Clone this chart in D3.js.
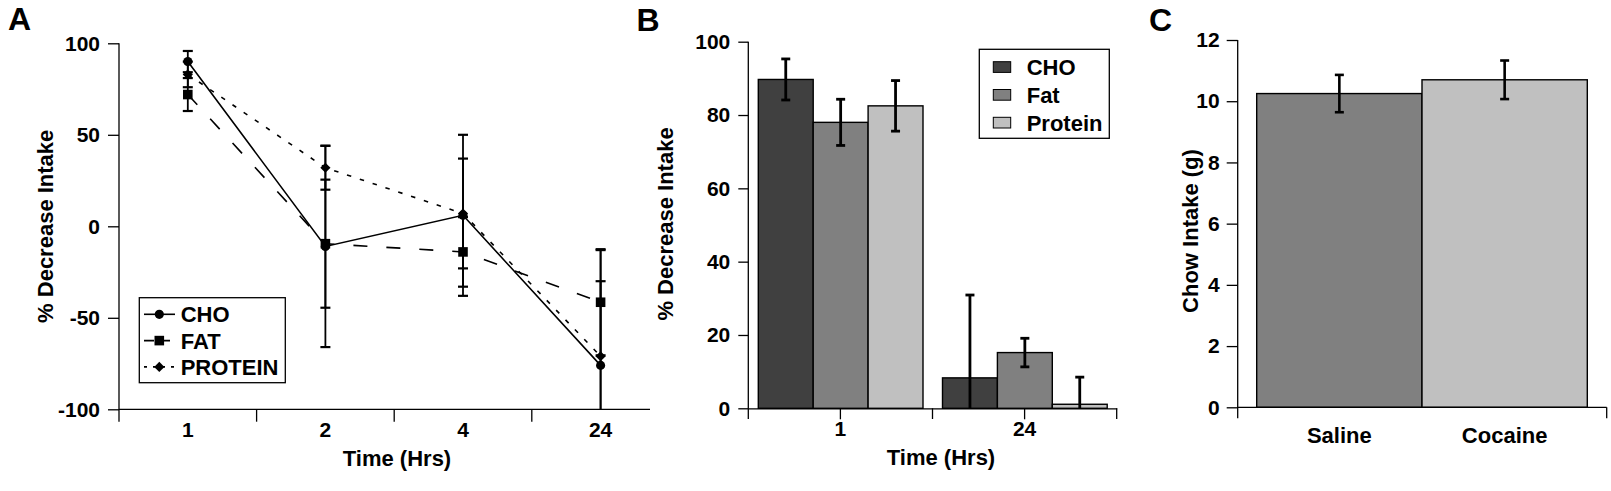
<!DOCTYPE html>
<html>
<head>
<meta charset="utf-8">
<script src="https://cdn.jsdelivr.net/npm/d3@7"></script>
<style>
body { margin: 0; background: #fff; }
svg text { font-family: "Liberation Sans", Arial, sans-serif; font-weight: bold; fill: #000; }
</style>
</head>
<body>
<script>
// ---- panel A : % decrease over time (line) ----
const timesA = ["1", "2", "4", "24"];
const seriesA = ["CHO", "FAT", "PROTEIN"];
const choA = [90, -11, 6, -76];
const choErrA = [5.8, 55, 44, 63];
const fatA = [72, -9.5, -14, -41.5];
const fatErrA = [9, 35, 19, 29];
const protA = [83, 32, 7, -71];
const protErrA = [7, 12, 30, 41];
const yTicksA = [-100, -50, 0, 50, 100];

// ---- panel B : % decrease, 1 h vs 24 h (bars) ----
const timesB = ["1", "24"];
const seriesB = ["CHO", "Fat", "Protein"];
const choB = [89.7, 8.3];
const choErrB = [5.6, 22.6];
const fatB = [78, 15.2];
const fatErrB = [6.3, 3.9];
const protB = [82.5, 1.1];
const protErrB = [6.9, 7.4];
const yTicksB = [0, 20, 40, 60, 80, 100];

// ---- panel C : chow intake ----
const groupsC = ["Saline", "Cocaine"];
const chowC = [10.25, 10.7];
const chowErrC = [0.61, 0.63];
const yTicksC = [0, 2, 4, 6, 8, 10, 12];

const W = 1611, H = 491;

// plain hyphen for negatives, like the original figure
const fmt = d => String(d);

const svg = d3.select("body").append("svg")
	.attr("width", W)
	.attr("height", H);

const styleAxis = (g, size) => {
	g.selectAll("path, line").attr("stroke", "#000").attr("stroke-width", 1.3);
	g.selectAll("text").style("font-size", size + "px");
}

// error bar with caps; caps are left off where the bar runs past the axis
const errorBar = (g, x, v, e, y, capW, lw, capLw) => {
	let [lo, hi] = y.domain();
	let top = Math.min(v + e, hi), bot = Math.max(v - e, lo);
	g.append("line")
		.attr("x1", x).attr("x2", x)
		.attr("y1", y(top)).attr("y2", y(bot))
		.attr("stroke", "#000").attr("stroke-width", lw);
	if (v + e <= hi) {
		g.append("line").attr("x1", x - capW).attr("x2", x + capW)
			.attr("y1", y(top)).attr("y2", y(top))
			.attr("stroke", "#000").attr("stroke-width", capLw || lw);
	}
	if (v - e >= lo) {
		g.append("line").attr("x1", x - capW).attr("x2", x + capW)
			.attr("y1", y(bot)).attr("y2", y(bot))
			.attr("stroke", "#000").attr("stroke-width", capLw || lw);
	}
}

const panelLetter = (txt, x, y) => {
	svg.append("text").attr("x", x).attr("y", y)
		.style("font-size", "32px").text(txt);
}

/* ================= Panel A ================= */
const drawA = () => {
	const g = svg.append("g").classed("panel-a", true);
	const y = d3.scaleLinear().domain([-100, 100]).range([409.3, 43.3]);
	const x = d3.scaleBand().domain(timesA).range([119, 669.4]);
	const cx = d => x(d) + x.bandwidth() / 2;

	// y axis
	const ya = g.append("g").attr("transform", "translate(119,0)")
		.call(d3.axisLeft(y).tickValues(yTicksA).tickFormat(fmt).tickSize(11).tickPadding(8).tickSizeOuter(0));
	ya.select(".domain").remove();
	g.append("line").attr("x1", 119).attr("x2", 119)
		.attr("y1", y(100)).attr("y2", 421.7);
	styleAxis(ya, 21);

	// x axis
	const xa = g.append("g").attr("transform", "translate(0," + y(-100) + ")")
		.call(d3.axisBottom(x).tickSize(0).tickPadding(13));
	xa.select(".domain").remove();
	styleAxis(xa, 21);
	g.append("line").attr("x1", 119).attr("x2", 650)
		.attr("y1", y(-100)).attr("y2", y(-100));
	d3.range(1, timesA.length).forEach(i => {
		let bx = x.range()[0] + i * x.step();
		g.append("line").attr("x1", bx).attr("x2", bx)
			.attr("y1", y(-100)).attr("y2", 421.7);
	});
	g.selectAll(":scope > line").attr("stroke", "#000").attr("stroke-width", 1.3);

	g.append("text").attr("x", 397).attr("y", 466)
		.attr("text-anchor", "middle").style("font-size", "22px").text("Time (Hrs)");
	g.append("text").attr("transform", "translate(53," + y(0) + ")rotate(-90)")
		.attr("text-anchor", "middle").style("font-size", "22px").text("% Decrease Intake");

	const series = [
		{ name: "CHO", vals: choA, errs: choErrA, dash: null, legDash: null, sym: d3.symbolCircle, size: 66, rot: 0 },
		{ name: "FAT", vals: fatA, errs: fatErrA, dash: "14,19", legDash: "10,6", sym: d3.symbolSquare, size: 92, rot: 0 },
		{ name: "PROTEIN", vals: protA, errs: protErrA, dash: "4.5,9", legDash: "3,6", sym: d3.symbolSquare, size: 52, rot: 45 }
	];

	const eb = g.append("g").classed("errorbars", true);
	series.forEach(s => {
		s.vals.forEach((v, i) => errorBar(eb, cx(timesA[i]), v, s.errs[i], y, 5, 1.8, 2.2));
	});

	const line = d3.line().x((d, i) => cx(timesA[i])).y(d => y(d));
	series.forEach(s => {
		g.append("path").datum(s.vals)
			.attr("d", line)
			.attr("fill", "none").attr("stroke", "#000").attr("stroke-width", 1.6)
			.attr("stroke-dasharray", s.dash);
		g.selectAll(null).data(s.vals).enter().append("path")
			.attr("d", d3.symbol().type(s.sym).size(s.size))
			.attr("transform", (d, i) => "translate(" + cx(timesA[i]) + "," + y(d) + ")rotate(" + s.rot + ")")
			.attr("fill", "#000");
	});

	// legend
	const lg = g.append("g").classed("legend", true);
	lg.append("rect").attr("x", 139.3).attr("y", 297.7).attr("width", 146).attr("height", 85)
		.attr("fill", "#fff").attr("stroke", "#000").attr("stroke-width", 1.3);
	series.forEach((s, i) => {
		let ly = 314.3 + i * 26.3;
		lg.append("line").attr("x1", 144).attr("x2", 175).attr("y1", ly).attr("y2", ly)
			.attr("stroke", "#000").attr("stroke-width", 1.6)
			.attr("stroke-dasharray", s.legDash);
		lg.append("path").attr("d", d3.symbol().type(s.sym).size(s.size))
			.attr("transform", "translate(159.3," + ly + ")rotate(" + s.rot + ")")
			.attr("fill", "#000");
		lg.append("text").attr("x", 180.7).attr("y", ly).attr("dy", "0.36em")
			.style("font-size", "22px").text(seriesA[i]);
	});
}

/* ================= Panel B ================= */
const drawB = () => {
	const g = svg.append("g").classed("panel-b", true);
	const colors = ["#404040", "#808080", "#c0c0c0"];
	const y = d3.scaleLinear().domain([0, 100]).range([408.3, 41.7]);
	const x0 = d3.scaleBand().domain(timesB).range([748.3, 1116.7]);
	const x1 = d3.scaleBand().domain(seriesB).range([10, x0.bandwidth() - 9.5]);

	const ya = g.append("g").attr("transform", "translate(748.3,0)")
		.call(d3.axisLeft(y).tickValues(yTicksB).tickFormat(fmt).tickSize(10).tickPadding(8).tickSizeOuter(0));
	ya.select(".domain").remove();
	styleAxis(ya, 21);

	const xa = g.append("g").attr("transform", "translate(0," + y(0) + ")")
		.call(d3.axisBottom(x0).tickSize(11).tickPadding(2).tickSizeOuter(0));
	styleAxis(xa, 21);
	g.append("line").attr("x1", 748.3).attr("x2", 748.3).attr("y1", y(100)).attr("y2", 419);
	d3.range(1, timesB.length + 1).forEach(i => {
		let bx = x0.range()[0] + i * x0.step();
		g.append("line").attr("x1", bx).attr("x2", bx).attr("y1", y(0)).attr("y2", 419);
	});
	g.selectAll(":scope > line").attr("stroke", "#000").attr("stroke-width", 1.3);

	const vals = [choB, fatB, protB], errs = [choErrB, fatErrB, protErrB];
	const bars = g.append("g").classed("bars", true);
	const eb = g.append("g").classed("errorbars", true);
	timesB.forEach((t, ti) => {
		seriesB.forEach((s, si) => {
			let v = vals[si][ti];
			let bx = x0(t) + x1(s);
			bars.append("rect")
				.attr("x", bx).attr("y", y(v))
				.attr("width", x1.bandwidth()).attr("height", y(0) - y(v))
				.attr("fill", colors[si]).attr("stroke", "#000").attr("stroke-width", 1.4);
			errorBar(eb, bx + x1.bandwidth() / 2, v, errs[si][ti], y, 4.5, 2.8);
		});
	});

	g.append("text").attr("x", 941).attr("y", 465)
		.attr("text-anchor", "middle").style("font-size", "22px").text("Time (Hrs)");
	g.append("text").attr("transform", "translate(673.3," + 224 + ")rotate(-90)")
		.attr("text-anchor", "middle").style("font-size", "22px").text("% Decrease Intake");

	const lg = g.append("g").classed("legend", true);
	lg.append("rect").attr("x", 979.3).attr("y", 49.3).attr("width", 130).attr("height", 89)
		.attr("fill", "#fff").attr("stroke", "#000").attr("stroke-width", 1.3);
	seriesB.forEach((s, i) => {
		let ly = 67 + i * 27.8;
		lg.append("rect").attr("x", 993.3).attr("y", ly - 5.3).attr("width", 17.4).attr("height", 10.7)
			.attr("fill", colors[i]).attr("stroke", "#000").attr("stroke-width", 1);
		lg.append("text").attr("x", 1026.7).attr("y", ly).attr("dy", "0.36em")
			.style("font-size", "22px").text(s);
	});
}

/* ================= Panel C ================= */
const drawC = () => {
	const g = svg.append("g").classed("panel-c", true);
	const colors = ["#808080", "#c0c0c0"];
	const y = d3.scaleLinear().domain([0, 12]).range([407.3, 40]);
	const x = d3.scaleBand().domain(groupsC).range([1256.7, 1587.3]);

	const ya = g.append("g").attr("transform", "translate(1237.7,0)")
		.call(d3.axisLeft(y).tickValues(yTicksC).tickFormat(fmt).tickSize(11).tickPadding(7).tickSizeOuter(0));
	ya.select(".domain").remove();
	styleAxis(ya, 21);

	const bars = g.append("g").classed("bars", true);
	const eb = g.append("g").classed("errorbars", true);
	groupsC.forEach((grp, i) => {
		let v = chowC[i];
		bars.append("rect")
			.attr("x", x(grp)).attr("y", y(v))
			.attr("width", x.bandwidth()).attr("height", y(0) - y(v))
			.attr("fill", colors[i]).attr("stroke", "#000").attr("stroke-width", 1.4);
		errorBar(eb, x(grp) + x.bandwidth() / 2, v, chowErrC[i], y, 4.5, 2.6);
	});

	const xa = g.append("g").attr("transform", "translate(0," + y(0) + ")")
		.call(d3.axisBottom(x).tickSize(0).tickPadding(20));
	xa.select(".domain").remove();
	styleAxis(xa, 22);
	g.append("line").attr("x1", 1237.7).attr("x2", 1606.7).attr("y1", y(0)).attr("y2", y(0));
	g.append("line").attr("x1", 1237.7).attr("x2", 1237.7).attr("y1", y(12)).attr("y2", 418.3);
	g.append("line").attr("x1", 1606.7).attr("x2", 1606.7).attr("y1", y(0)).attr("y2", 418.3);
	g.selectAll(":scope > line").attr("stroke", "#000").attr("stroke-width", 1.3);

	g.append("text").attr("transform", "translate(1197.5,231)rotate(-90)")
		.attr("text-anchor", "middle").style("font-size", "22px").text("Chow Intake (g)");
}

drawA();
drawB();
drawC();
panelLetter("A", 8, 30);
panelLetter("B", 636.5, 30.7);
panelLetter("C", 1149, 30.7);
</script>
</body>
</html>
